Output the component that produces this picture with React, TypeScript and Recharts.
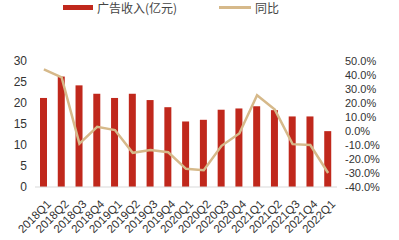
import React from "react";
import { ComposedChart, Bar, Line, XAxis, YAxis, Legend } from "recharts";

const quarters = [
  "2018Q1", "2018Q2", "2018Q3", "2018Q4",
  "2019Q1", "2019Q2", "2019Q3", "2019Q4",
  "2020Q1", "2020Q2", "2020Q3", "2020Q4",
  "2021Q1", "2021Q2", "2021Q3", "2021Q4",
  "2022Q1",
];
const revenue = [21.2, 26.3, 24.2, 22.2, 21.2, 22.2, 20.7, 19.0, 15.6, 16.0, 18.4, 18.7, 19.2, 18.3, 16.8, 16.8, 13.3];
const yoy = [44, 38.3, -9, 3, 0.7, -15.6, -13.5, -15.2, -27, -28, -10.6, -1.8, 25.5, 15.3, -9.4, -10, -30];
const leftTicks = [0, 5, 10, 15, 20, 25, 30];
const rightTicks = [-40, -30, -20, -10, 0, 10, 20, 30, 40, 50];

const data = quarters.map((q, i) => ({ q, revenue: revenue[i], yoy: yoy[i] }));

const BAR = "#c0281c";
const LINE = "#d6b98a";
const FONT = "'Noto Sans CJK SC', 'DejaVu Sans', sans-serif";
const NUMFONT = "'Liberation Sans', Arial, sans-serif";

const renderLegend = () => (
  <div style={{ position: "relative", height: 20, fontFamily: FONT, fontSize: 12, color: "#444" }}>
    <div style={{ position: "absolute", left: 63, top: 5, width: 30, height: 5, background: BAR }} />
    <div style={{ position: "absolute", left: 97, top: -1 }}>广告收入(亿元)</div>
    <div style={{ position: "absolute", left: 219, top: 6, width: 32, height: 2.5, background: LINE }} />
    <div style={{ position: "absolute", left: 255, top: -1 }}>同比</div>
  </div>
);

const XTick = (props: any) => {
  const { x, y, payload } = props;
  return (
    <g transform={`translate(${x + 5},${y + 7})`}>
      <text transform="rotate(-45)" textAnchor="end" dy={4} fontSize={11.5} fill="#333" fontFamily={NUMFONT}>
        {payload.value}
      </text>
    </g>
  );
};

export default function App() {
  return (
    <div style={{ position: "absolute", left: 0, top: 0, width: 399, height: 240, background: "#fff" }}>
      <ComposedChart
        width={399}
        height={240}
        data={data}
        margin={{ top: 41, right: 0, bottom: 0, left: 0 }}
      >
        <Legend verticalAlign="top" content={renderLegend} wrapperStyle={{ top: 0, left: 0, width: 399, height: 20 }} />
        <XAxis
          dataKey="q"
          interval={0}
          tick={<XTick />}
          tickLine={false}
          axisLine={{ stroke: "#d9d9d9" }}
          height={53}
        />
        <YAxis
          yAxisId="left"
          domain={[0, 30]}
          ticks={leftTicks}
          interval={0}
          axisLine={false}
          tickLine={false}
          width={35}
          tick={{ fontSize: 12, fill: "#333", fontFamily: NUMFONT }}
        />
        <YAxis
          yAxisId="right"
          orientation="right"
          domain={[-40, 50]}
          ticks={rightTicks}
          interval={0}
          axisLine={false}
          tickLine={false}
          width={62}
          tickFormatter={(v: number) => `${v.toFixed(1)}%`}
          tick={{ fontSize: 11, fill: "#333", fontFamily: NUMFONT }}
        />
        <Bar yAxisId="left" dataKey="revenue" fill={BAR} barSize={7} isAnimationActive={false} />
        <Line
          yAxisId="right"
          dataKey="yoy"
          type="linear"
          stroke={LINE}
          strokeWidth={2.5}
          dot={false}
          activeDot={false}
          isAnimationActive={false}
        />
      </ComposedChart>
    </div>
  );
}
